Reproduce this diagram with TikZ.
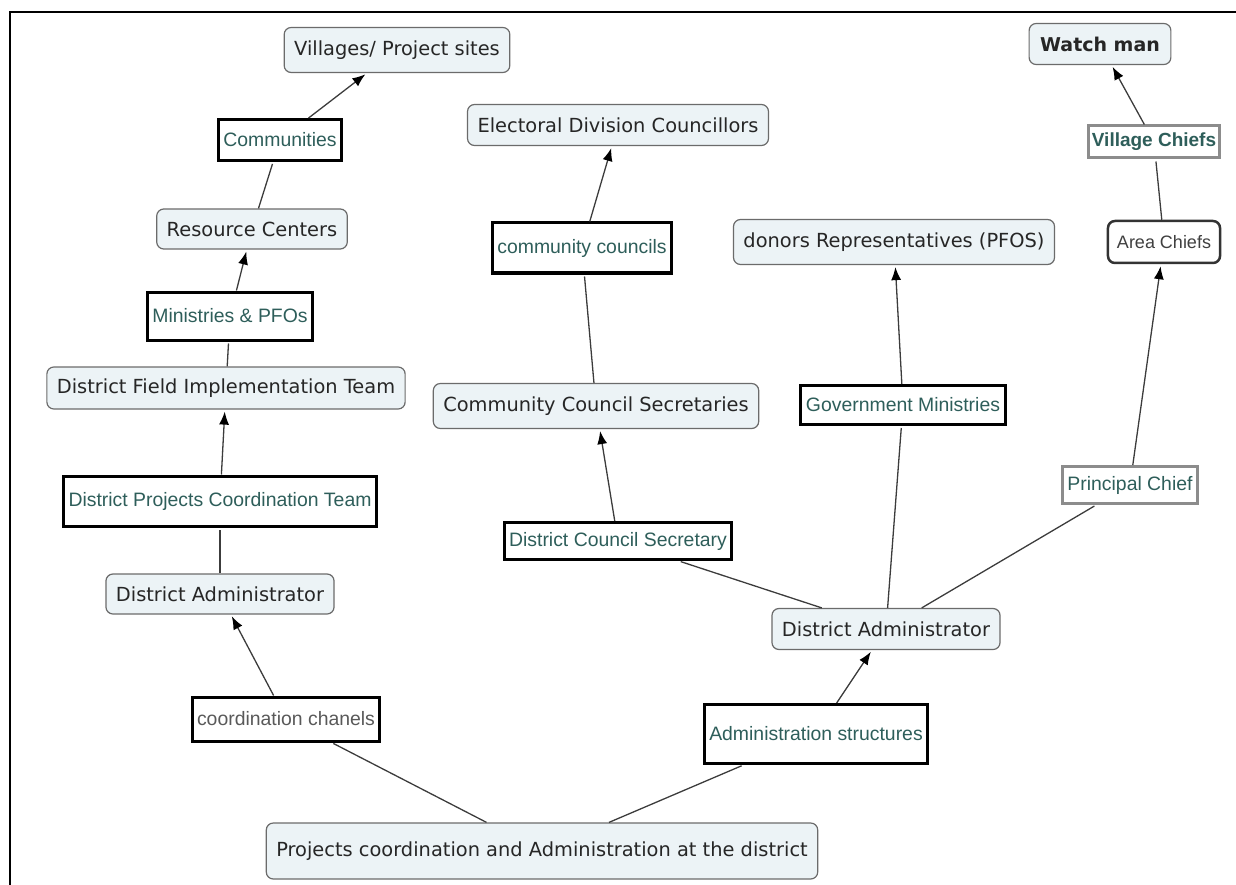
\documentclass[tikz,border=0pt]{standalone}
\usepackage{fontspec}
\setmainfont{DejaVu Sans}
\newfontfamily\linkfont{Liberation Sans}
\usetikzlibrary{arrows.meta}
\definecolor{conceptfill}{HTML}{ECF3F6}
\definecolor{conceptdraw}{HTML}{6B6B6B}
\definecolor{linktext}{HTML}{2E5E5A}
\definecolor{wiregray}{HTML}{3C3C3C}

\begin{document}
\begin{tikzpicture}[x=1pt, y=-1pt, >={Latex[length=13pt,width=10pt,color=black]},
  concept/.style={rectangle, rounded corners=7pt, draw=conceptdraw, line width=1.2pt, fill=conceptfill, text=black!85, font=\fontsize{19.4}{23}\selectfont, inner xsep=10pt, minimum height=42pt},
  link/.style={rectangle, draw=black, line width=3pt, fill=white, text=linktext, font=\linkfont\fontsize{19.4}{23}\selectfont, inner xsep=5pt, minimum height=44pt},
  linkgray/.style={link, draw=black!45},
  wire/.style={draw=wiregray, line width=1.3pt, shorten >=2pt}]
                \useasboundingbox (0,0) rectangle (1236,885);
                \draw[line width=2pt] (10,885) -- (10,12) -- (1236,12);

                % left branch
                \node[concept, minimum height=45pt] (villages) at (397,50) {Villages/ Project sites};
                \node[link, minimum height=41pt] (communities) at (280,140) {Communities};
                \node[concept, minimum height=40pt] (resource) at (252,229) {Resource Centers};
                \node[link, minimum height=48pt] (ministries) at (230,316) {Ministries \& PFOs};
                \node[concept] (fieldteam) at (226,388) {District Field Implementation Team};
                \node[link, minimum height=50pt] (coordteam) at (220,501) {District Projects Coordination Team};
                \node[concept, minimum height=40pt] (adminleft) at (220,594) {District Administrator};
                \node[link, text=black!65] (chanels) at (286,719) {coordination chanels};
                \node[concept, minimum height=56pt] (district) at (542,851) {Projects coordination and Administration at the district};

                % right branch
                \node[link, minimum height=59pt] (adminstruct) at (816,734) {Administration structures};
                \node[concept, minimum height=41pt] (adminright) at (886,629) {District Administrator};
                \node[link, minimum height=37pt] (councilsec) at (618,541) {District Council Secretary};
                \node[concept, minimum height=45pt] (ccsec) at (596,406) {Community Council Secretaries};
                \node[link, minimum height=50pt] (ccouncils) at (582,248) {community councils};
                \node[concept, minimum height=41pt] (electoral) at (618,125) {Electoral Division Councillors};
                \node[link, minimum height=39pt] (govmin) at (903,405) {Government Ministries};
                \node[concept, minimum height=45pt] (donors) at (894,242) {donors Representatives (PFOS)};
                \node[linkgray, minimum height=37pt] (principal) at (1130,485) {Principal Chief};
                \node[concept, draw=black!80, line width=2.5pt, fill=white, text=black!75, font=\linkfont\fontsize{18}{22}\selectfont, inner xsep=9pt] (area) at (1164,242) {Area Chiefs};
                \node[linkgray, minimum height=32pt, font=\linkfont\bfseries\fontsize{19}{23}\selectfont, inner xsep=3pt] (village) at (1154,142) {Village Chiefs};
                \node[concept, minimum height=41pt, font=\bfseries\fontsize{19}{23}\selectfont, inner xsep=11pt] (watchman) at (1100,44) {Watch man};

                \draw[wire] (district) -- (chanels);
                \draw[wire, ->] (chanels) -- (adminleft);
                \draw[wire] (adminleft) -- (coordteam);
                \draw[wire, ->] (coordteam) -- (fieldteam);
                \draw[wire] (fieldteam) -- (ministries);
                \draw[wire, ->] (ministries) -- (resource);
                \draw[wire] (resource) -- (communities);
                \draw[wire, ->] (communities) -- (villages);

                \draw[wire] (district) -- (adminstruct);
                \draw[wire, ->] (adminstruct) -- (adminright);
                \draw[wire] (adminright) -- (councilsec);
                \draw[wire, ->] (councilsec) -- (ccsec);
                \draw[wire] (ccsec) -- (ccouncils);
                \draw[wire, ->] (ccouncils) -- (electoral);
                \draw[wire] (adminright) -- (govmin);
                \draw[wire, ->] (govmin) -- (donors);
                \draw[wire] (adminright) -- (principal);
                \draw[wire, ->] (principal) -- (area);
                \draw[wire] (area) -- (village);
                \draw[wire, ->] (village) -- (watchman);
            \end{tikzpicture}
\end{document}
